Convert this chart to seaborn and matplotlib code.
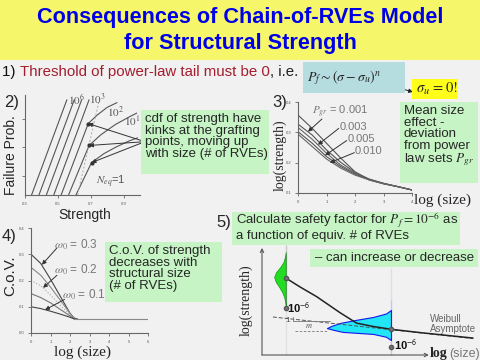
import matplotlib
matplotlib.use("Agg")
import matplotlib.pyplot as plt
from matplotlib.patches import Rectangle
import numpy as np
import seaborn as sns


# --------- Data --------- #
# 2) cdf of strength: strength vs failure probability
CDF_P_RANGE = [0.0, 1.0]
CDF_STRAIGHT_LO = [0.34, 0.385, 0.43, 0.475]    # strength at P = 0 (large N, pure Weibull)
CDF_STRAIGHT_HI = [0.555, 0.60, 0.645, 0.69]    # strength at P = 1
CDF_N100_S = [0.52, 0.685, 0.74, 0.80, 0.86]
CDF_N100_P = [0.0, 0.75, 0.84, 0.92, 0.97]
CDF_N10_S = [0.565, 0.69, 0.76, 0.85, 0.94, 0.98]
CDF_N10_P = [0.0, 0.52, 0.63, 0.74, 0.825, 0.86]
CDF_N1_S = [0.61, 0.705, 0.78, 0.85, 0.93, 0.985]
CDF_N1_P = [0.0, 0.34, 0.434, 0.50, 0.565, 0.60]
GAUSS_S = [0.62, 0.755]
GAUSS_P = [0.0, 1.02]
STRENGTH_TICKS = [0.3, 0.5, 0.7, 0.9]

# 3) mean size effect, log(strength) vs log(size)
SIZE3 = [0, 0.5, 1, 1.5, 2, 2.5, 3, 3.5, 4]
LOGSTR_POWER = [0.357, 0.313, 0.264, 0.215, 0.170, 0.143, 0.130, 0.121, 0.110]
LOGSTR_001 = [0.327, 0.291, 0.242, 0.201, 0.168, 0.146, 0.132, 0.121, 0.110]
LOGSTR_003 = [0.316, 0.277, 0.231, 0.192, 0.165, 0.145, 0.132, 0.121, 0.110]
LOGSTR_005 = [0.302, 0.264, 0.220, 0.187, 0.162, 0.144, 0.131, 0.121, 0.110]
LOGSTR_010 = [0.294, 0.253, 0.212, 0.182, 0.159, 0.143, 0.131, 0.121, 0.110]
PGR_LABELS = ["0.001", "0.003", "0.005", "0.010"]

# 4) C.o.V. of strength vs log(size)
SIZE4 = [0, 0.5, 1.0, 1.5, 2.0, 2.2, 2.4]
COV_030 = [0.30, 0.265, 0.205, 0.14, 0.075, 0.058, 0.052]
COV_025 = [0.25, 0.22, 0.175, 0.125, 0.075, 0.057, 0.052]
COV_020 = [0.20, 0.18, 0.145, 0.105, 0.07, 0.056, 0.052]
COV_015 = [0.15, 0.135, 0.115, 0.09, 0.065, 0.055, 0.052]
COV_010 = [0.10, 0.093, 0.083, 0.072, 0.06, 0.054, 0.052]
COV_TAIL_X = [2.2, 6.0]
COV_TAIL_Y = [0.052, 0.052]

# 5) safety factor sketch (arbitrary log units)
SF_SIZE = [1.43, 2.29, 3.30, 4.70, 5.70, 6.69, 7.77, 9.70, 12.71]
SF_STR = [4.64, 4.10, 3.51, 2.55, 1.92, 1.72, 1.55, 1.33, 1.02]
ASYM_SIZE = [0.66, 12.71]
ASYM_STR = [2.29, 0.99]
SIZE_SMALL, SIZE_LARGE = 1.43, 7.77
Q_SMALL, Q_LARGE = 2.85, 0.48          # strength at Pf = 1e-6
PDF_SMALL_STR = [6.2, 5.9, 5.6, 5.3, 5.0, 4.7, 4.4, 4.1, 3.8, 3.5, 3.2, 3.0]
PDF_SMALL_W = [0.0, 0.05, 0.14, 0.33, 0.58, 0.70, 0.60, 0.40, 0.22, 0.10, 0.03, 0.0]
PDF_LARGE_STR = [2.71, 2.5, 2.29, 2.1, 1.93, 1.75, 1.62, 1.5, 1.39, 1.27, 1.1, 0.9]
PDF_LARGE_W = [0.0, 0.3, 1.08, 2.2, 3.07, 3.6, 3.86, 3.4, 2.9, 1.08, 0.3, 0.0]

GREEN = "#c6f4c4"
W, H = 480, 360


sns.set_style("ticks")
plt.rcParams["font.family"] = ["Liberation Sans", "DejaVu Sans"]
plt.rcParams["mathtext.fontset"] = "stix"

fig = plt.figure(figsize=(4.8, 3.6), dpi=100)
fig.patch.set_facecolor("#f1f1f1")


def box(x, y, w, h):
    return [x / W, 1 - (y + h) / H, w / W, h / H]


def fig_rect(x, y, w, h, color, z=0.5):
    fig.add_artist(Rectangle((x / W, 1 - (y + h) / H), w / W, h / H, transform=fig.transFigure,
                             facecolor=color, edgecolor="none", zorder=z))


def fig_text(x, y, s, **kw):
    kw.setdefault("zorder", 3)
    return fig.text(x / W, 1 - y / H, s, **kw)


def small_axes(ax, xticks, yticks, xlabels, ylabels):
    ax.patch.set_alpha(0)
    sns.despine(ax=ax)
    for sp in ["left", "bottom"]:
        ax.spines[sp].set_color("#666")
        ax.spines[sp].set_linewidth(0.8)
    ax.set_xticks(xticks)
    ax.set_yticks(yticks)
    ax.set_xticklabels(xlabels)
    ax.set_yticklabels(ylabels)
    ax.tick_params(length=2, width=0.6, color="#666", labelsize=3, labelcolor="#555", pad=3)
    ax.set_xlabel("")
    ax.set_ylabel("")


def arrow(ax, xy, xytext, color="#333"):
    ax.annotate("", xy=xy, xytext=xytext, annotation_clip=False,
                arrowprops=dict(arrowstyle="-|>", color=color, lw=0.7, mutation_scale=6,
                                shrinkA=0, shrinkB=0))


# --------- Title & line 1 --------- #
fig_rect(0, 0, 480, 60, "#f6f66b", z=0.2)
fig_text(240, 18, "Consequences of Chain-of-RVEs Model", ha="center", va="center",
         fontsize=15.6, fontweight="bold", color="#0000e6")
fig_text(240, 43, "for Structural Strength", ha="center", va="center",
         fontsize=15.6, fontweight="bold", color="#0000e6")

renderer = fig.canvas.get_renderer()
x = 2
for s, c in [("1) ", "#111"), ("Threshold of power-law tail must be 0", "#a31d2f"), (", i.e.", "#222")]:
    t = fig_text(x, 72, s, va="center", fontsize=10.8, color=c)
    x += t.get_window_extent(renderer).width

fig_rect(303, 62, 102, 31, "#b5dde0")
fig_text(307, 78, r"$P_f \sim (\sigma - \sigma_u)^n$", va="center", fontsize=10)
fig_rect(412, 79, 46, 20, "#ffff1a")
fig_text(416, 89, r"$\sigma_u\, = 0!$", va="center", fontsize=10.5)
ax_top = fig.add_axes([0, 0, 1, 1])
ax_top.set_xlim(0, W)
ax_top.set_ylim(H, 0)
ax_top.axis("off")
ax_top.patch.set_alpha(0)
arrow(ax_top, (413, 92), (378, 82), color="#222")

# --------- Panel 2 --------- #
ax2 = fig.add_axes(box(25, 95, 115, 100))
for lo, hi in zip(CDF_STRAIGHT_LO, CDF_STRAIGHT_HI):
    sns.lineplot(x=[lo, hi], y=CDF_P_RANGE, ax=ax2, color="#555", lw=0.8, sort=False)
for s, p in [(CDF_N100_S, CDF_N100_P), (CDF_N10_S, CDF_N10_P), (CDF_N1_S, CDF_N1_P)]:
    sns.lineplot(x=s, y=p, ax=ax2, color="#555", lw=0.8, sort=False)
sns.lineplot(x=GAUSS_S, y=GAUSS_P, ax=ax2, color="#aaa", lw=0.7, ls=(0, (2, 2)), sort=False)
ax2.set_xlim(0.3, 1.0)
ax2.set_ylim(0, 1.05)
small_axes(ax2, STRENGTH_TICKS, [0.2, 0.5, 0.8], [f"{v:.1f}" for v in STRENGTH_TICKS], ["", "", ""])
for s, p in [(CDF_N100_S, CDF_N100_P), (CDF_N10_S, CDF_N10_P), (CDF_N1_S, CDF_N1_P)]:
    arrow(ax2, (s[1], p[1]), (1.03, 0.56))
    ax2.plot(s[1], p[1], "o", ms=2, color="#333")
lab = dict(fontsize=8, color="#555", va="center")
ax2.text(0.56, 1.0, "$10^6$", **lab)
ax2.text(0.69, 1.0, "$10^3$", **lab)
ax2.text(0.80, 0.87, "$10^2$", **lab)
ax2.text(0.905, 0.78, "$10^1$", **lab)
ax2.text(0.73, 0.14, r"$N_{eq}$=1", **lab)
fig_text(4, 102, "2)", fontsize=12, va="center")
fig_text(11, 155, "Failure Prob.", rotation=90, ha="center", va="center", fontsize=10)
fig_text(85, 215, "Strength", ha="center", va="center", fontsize=10)
fig_rect(141, 110, 128, 64, GREEN)
fig_text(145, 113, "cdf of strength have\nkinks at the grafting\npoints, moving up\nwith size (# of RVEs)",
         va="top", fontsize=9.5, linespacing=0.95)

# --------- Panel 3 --------- #
ax3 = fig.add_axes(box(298, 102, 114, 91))
for ys, c in [(LOGSTR_POWER, "#555"), (LOGSTR_001, "#555"), (LOGSTR_003, "#666"),
              (LOGSTR_005, "#555"), (LOGSTR_010, "#666")]:
    sns.lineplot(x=SIZE3, y=ys, ax=ax3, color=c, lw=0.8, sort=False)
ax3.set_xlim(0, 4)
ax3.set_ylim(0.1, 0.4)
small_axes(ax3, [0, 1, 2, 3, 4], [0.1, 0.2, 0.3, 0.4], ["0", "1", "2", "3", "4"],
           ["0.1", "0.2", "0.3", "0.4"])
lab3 = dict(fontsize=8, color="#777", va="center")
ax3.text(0.5, 0.366, r"$P_{gr}$" + " = " + PGR_LABELS[0], **lab3)
ax3.text(1.45, 0.317, PGR_LABELS[1], **lab3)
ax3.text(1.73, 0.277, PGR_LABELS[2], **lab3)
ax3.text(2.0, 0.237, PGR_LABELS[3], **lab3)
arrow(ax3, (0.35, 0.302), (0.84, 0.344))
arrow(ax3, (0.70, 0.259), (1.43, 0.313))
arrow(ax3, (0.95, 0.224), (1.71, 0.273))
arrow(ax3, (1.12, 0.200), (1.98, 0.233))
fig_text(272, 103, "3)", fontsize=12, va="center")
fig_text(280, 155, "log(strength)", rotation=90, ha="center", va="center", fontsize=10,
         family="Liberation Serif")
fig_text(443, 200, "log (size)", ha="center", va="center", fontsize=11, family="Liberation Serif")
fig_rect(400, 102, 78, 81, GREEN)
fig_text(404, 105, "Mean size\neffect -\ndeviation\nfrom power\nlaw sets $P_{gr}$",
         va="top", fontsize=9.5, linespacing=0.95)

# --------- Panel 4 --------- #
ax4 = fig.add_axes(box(31, 228, 117, 105))
for ys, c, ls in [(COV_030, "#444", "-"), (COV_025, "#888", "-"), (COV_020, "#aaa", ":"),
                  (COV_015, "#777", "-"), (COV_010, "#444", "-")]:
    sns.lineplot(x=SIZE4, y=ys, ax=ax4, color=c, lw=0.8, ls=ls, sort=False)
sns.lineplot(x=COV_TAIL_X, y=COV_TAIL_Y, ax=ax4, color="#888", lw=0.8, sort=False)
ax4.set_xlim(0, 6)
ax4.set_ylim(0, 0.4)
small_axes(ax4, range(7), [0, 0.1, 0.2, 0.3, 0.4], [str(i) for i in range(7)],
           ["0.0", "0.1", "0.2", "0.3", "0.4"])
lab4 = dict(fontsize=8.5, color="#777", va="center")
ax4.text(1.2, 0.335, r"$\omega_0$ = 0.3", **lab4)
ax4.text(1.2, 0.24, r"$\omega_0$ = 0.2", **lab4)
ax4.text(1.6, 0.145, r"$\omega_0$ = 0.1", **lab4)
arrow(ax4, (0.56, 0.26), (1.33, 0.324))
arrow(ax4, (0.62, 0.172), (1.33, 0.22))
arrow(ax4, (0.72, 0.088), (1.72, 0.128))
fig_text(2, 237, "4)", fontsize=12, va="center")
fig_text(10, 276, "C.o.V.", rotation=90, ha="center", va="center", fontsize=11)
fig_text(83, 352, "log (size)", ha="center", va="center", fontsize=11, family="Liberation Serif")
fig_rect(105, 242, 117, 60, GREEN)
fig_text(109, 245, "C.o.V. of strength\ndecreases with\nstructural size\n(# of RVEs)",
         va="top", fontsize=9.5, linespacing=0.95)

# --------- Panel 5 --------- #
ax5 = fig.add_axes(box(262, 245, 218, 110))
ax5.set_xlim(0, 218 / 16.6)
ax5.set_ylim(0, 110 / 16.6)
ax5.axis("off")
ax5.patch.set_alpha(0)
ax5.annotate("", xy=(0, 6.45), xytext=(0, 0),
             arrowprops=dict(arrowstyle="->", color="#555", lw=0.8, mutation_scale=6, shrinkA=0, shrinkB=0))
ax5.annotate("", xy=(10.05, 0), xytext=(0, 0),
             arrowprops=dict(arrowstyle="->", color="#555", lw=0.8, mutation_scale=6, shrinkA=0, shrinkB=0))
sns.lineplot(x=ASYM_SIZE, y=ASYM_STR, ax=ax5, color="#555", lw=0.7, ls=(0, (4, 2)), sort=False)
# small-structure pdf
ax5.fill_betweenx(PDF_SMALL_STR, SIZE_SMALL - np.array(PDF_SMALL_W), SIZE_SMALL,
                  color="#22dd22", edgecolor="#119911", lw=0.5)
sns.lineplot(x=[SIZE_SMALL, SIZE_SMALL], y=[Q_SMALL - 0.2, 6.63], ax=ax5, color="#222", lw=1.0, sort=False)
sns.lineplot(x=[SIZE_SMALL, SIZE_SMALL], y=[0, Q_SMALL - 0.2], ax=ax5, color="#aaa", lw=1.0,
             ls=(0, (1, 1.5)), sort=False)
# large-structure pdf
ax5.fill_betweenx(PDF_LARGE_STR, SIZE_LARGE - np.array(PDF_LARGE_W), SIZE_LARGE,
                  color="#22e5f5", edgecolor="#1515ee", lw=0.8)
sns.lineplot(x=[SIZE_LARGE, SIZE_LARGE], y=[0, 3.3], ax=ax5, color="#1515ee", lw=1.2, sort=False)
sns.lineplot(x=[SIZE_LARGE, SIZE_LARGE], y=[3.3, 5.24], ax=ax5, color="#999", lw=0.8,
             ls=(0, (2, 2)), sort=False)
# mean size effect curve
sns.lineplot(x=SF_SIZE, y=SF_STR, ax=ax5, color="#222", lw=1.1, sort=False)
ax5.plot([SIZE_SMALL, SIZE_SMALL, SIZE_LARGE, SIZE_LARGE], [SF_STR[0], Q_SMALL, SF_STR[6], Q_LARGE],
         "o", ms=3, color="#777", mec="#555", zorder=5)
# slope triangle
ax5.plot([1.87, 4.1], [2.05, 2.05], color="#777", lw=0.6)
ax5.plot([1.87, 1.87], [2.05, 2.3], color="#777", lw=0.6)
ax5.plot([2.0, 3.9], [1.45, 1.45], color="#777", lw=0.6, ls=(0, (3, 2)))
ax5.text(1.72, 2.05, "1", fontsize=6, color="#555", ha="right", va="center")
ax5.text(2.6, 1.72, "$m$", fontsize=6, color="#555", va="center")
lab5 = dict(fontsize=8, color="#111", va="center", fontweight="bold")
ax5.text(SIZE_SMALL + 0.1, Q_SMALL, r"10$^{\mathsf{-6}}$", **lab5)
ax5.text(SIZE_LARGE + 0.2, Q_LARGE + 0.12, r"10$^{\mathsf{-6}}$", **lab5)
ax5.text(10.12, 1.87, "Weibull\nAsymptote", fontsize=7, color="#666", va="center", linespacing=1.1)
fig_text(216, 223, "5)", fontsize=12, va="center")
fig_text(246, 300, "log(strength)", rotation=90, ha="center", va="center", fontsize=10,
         family="Liberation Serif")
t = fig_text(430, 354, "log", va="center", fontsize=10, fontweight="bold", family="Liberation Serif")
fig_text(431 + t.get_window_extent(renderer).width, 354, "(size)", va="center", fontsize=9, color="#777")
fig_rect(232, 212, 228, 33, GREEN)
fig_text(236, 220, r"Calculate safety factor for $P_f = 10^{-6}$ as", va="center", fontsize=9.5)
fig_text(236, 236, "a function of equiv. # of RVEs", va="center", fontsize=9.5)
fig_rect(310, 249, 168, 18, GREEN)
fig_text(315, 258, "\u2013 can increase or decrease", va="center", fontsize=9.5)

fig.savefig("out.png", dpi=100, facecolor=fig.get_facecolor())
